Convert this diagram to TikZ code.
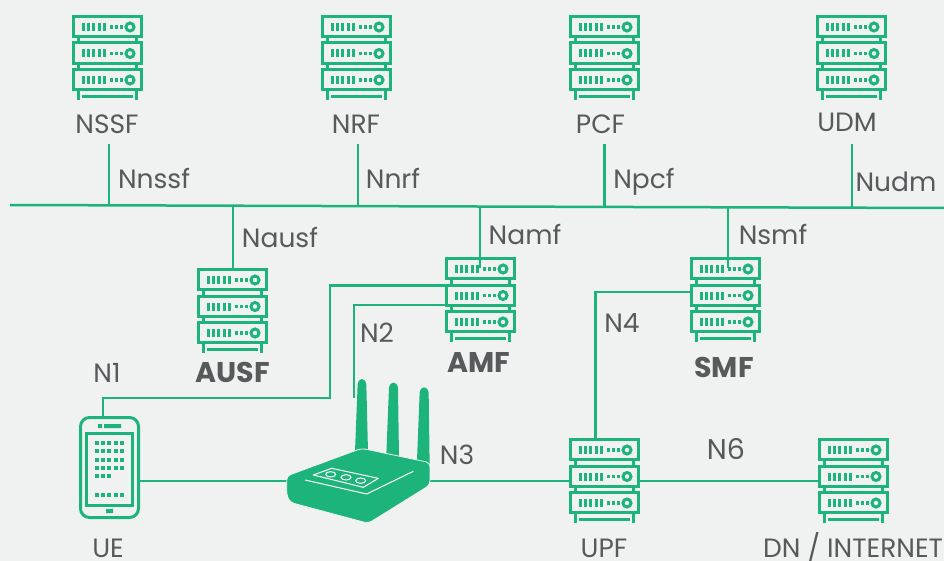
\documentclass[tikz,border=0pt]{standalone}
\usepackage{fontspec}
\setmainfont{Poppins}
\definecolor{grn}{HTML}{1DB47C}
\definecolor{bgc}{HTML}{F0F2F1}
\definecolor{txt}{HTML}{58595B}
\tikzset{
  wire/.style={draw=grn,line width=2.5pt},
  iconline/.style={draw=grn,line width=3pt},
  lbl/.style={text=txt,font=\fontsize{26.5}{30}\selectfont,inner sep=0pt,anchor=base},
  biglbl/.style={text=txt,font=\fontsize{28.5}{32}\selectfont,inner sep=0pt,anchor=base},
  boldlbl/.style={text=txt,font=\fontsize{28.5}{32}\selectfont\bfseries,inner sep=0pt,anchor=base},
  holder/.style={rectangle,inner sep=0pt,draw=none},
}
\newcommand{\srvicon}[3]{%
  \begin{scope}[shift={(#2,#3)}]
    \node[holder,minimum width=71pt,minimum height=85pt] (#1) at (35.5,42.5) {};
    \foreach \r in {0,26.5,53}{
      \draw[iconline] (1.5,\r+1.5) rectangle (69.5,\r+21.8);
      \foreach \t in {10,15,20,26,31}{\fill[grn] (\t,\r+8) rectangle ++(3.4,8);}
      \foreach \t in {38,43,48}{\fill[grn] (\t,\r+10.2) rectangle ++(3.4,3.4);}
      \draw[iconline] (58,\r+12) circle (4);
    }
    \draw[iconline] (6.5,23)--(6.5,27) (64.5,23)--(64.5,27) (6.5,49.5)--(6.5,53.5) (64.5,49.5)--(64.5,53.5);
    \draw[iconline] (6.5,75)--(6.5,85) (64.5,75)--(64.5,85);
    \draw[iconline] (10,81.5)--(61,81.5);
  \end{scope}}
\begin{document}
\begin{tikzpicture}[x=1pt,y=-1pt]
\fill[bgc] (0,0) rectangle (944,561);
\useasboundingbox (0,0) rectangle (944,561);
% servers
\srvicon{nssf}{72}{15}
\srvicon{nrf}{321}{15}
\srvicon{pcf}{569}{15}
\srvicon{udm}{816}{15}
\srvicon{ausf}{197}{268}
\srvicon{amf}{445}{257}
\srvicon{smf}{690}{257}
\srvicon{upf}{569}{438}
\srvicon{dn}{818}{438}
% labels
\node[lbl] (lnssf) at (107,134) {NSSF};
\node[lbl] (lnrf) at (356,134) {NRF};
\node[lbl] (lpcf) at (600.5,134) {PCF};
\node[lbl] (ludm) at (847,131.5) {UDM};
\node[lbl] (tnssf) at (154,188.7) {Nnssf};
\node[lbl] (tnrf) at (393,188.7) {Nnrf};
\node[lbl] (tpcf) at (644,188.7) {Npcf};
\node[lbl] (tudm) at (896,191.7) {Nudm};
\node[lbl] (tausf) at (280,247.7) {Nausf};
\node[lbl] (tamf) at (525,244.7) {Namf};
\node[lbl] (tsmf) at (773,244.7) {Nsmf};
\node[lbl] (n1) at (107,382) {N1};
\node[lbl] (n2) at (377,342) {N2};
\node[lbl] (n3) at (457,464) {N3};
\node[lbl] (n4) at (622,332) {N4};
\node[biglbl] (n6) at (726,459) {N6};
\node[boldlbl] (lausf) at (233,382) {AUSF};
\node[boldlbl] (lamf) at (479,372) {AMF};
\node[boldlbl] (lsmf) at (724,377) {SMF};
\node[lbl] (lue) at (108,557.5) {UE};
\node[lbl] (lupf) at (604,557.5) {UPF};
\node[lbl] (ldn) at (853,557.5) {DN / INTERNET};
% bus
\coordinate (busL) at (10,205);
\coordinate (busR) at (944,208);
\draw[wire] (busL) -- (busR);
\coordinate (j1) at (109,205.3);
\coordinate (j2) at (358,206);
\coordinate (j3) at (604.5,206.5);
\coordinate (j4) at (852,207.5);
\coordinate (j5) at (233,206);
\coordinate (j6) at (480,206.5);
\coordinate (j7) at (728,207);
\coordinate (s1) at (109,144);
\coordinate (s2) at (358,144);
\coordinate (s3) at (604.5,144);
\coordinate (s4) at (852,144);
\draw[wire] (s1)--(j1);
\draw[wire] (s2)--(j2);
\draw[wire] (s3)--(j3);
\draw[wire] (s4)--(j4);
\draw[wire] (j5)--(j5 |- ausf.north);
\draw[wire] (j6)--([yshift=-11pt]j6 |- amf.north);
\draw[wire] (j7)--([yshift=-11pt]j7 |- smf.north);
% phone
\node[holder,minimum width=61pt,minimum height=103pt] (ue) at (109.5,467.5) {};
\draw[iconline,rounded corners=9pt] (80.5,417.5) rectangle (138.5,517.5);
\draw[iconline] (86,433) rectangle (132,505);
\fill[grn] (98,424) rectangle (102,428) (104,424) rectangle (121,428) (106,509) rectangle (113,513);
\foreach \y in {443,451,460,468}{\foreach \x in {97,103,109,116,122}{\fill[grn] (\x-2,\y-2) rectangle ++(4,4);}}
\foreach \x in {97,103,109}{\fill[grn] (\x-2,474) rectangle ++(4,4);}
\foreach \x in {97,103,109,116,122}{\fill[grn] (\x-2,493) rectangle ++(4,4);}
% router holder + wires beneath it
\node[holder,minimum width=143pt,minimum height=75pt] (router) at (358.5,485.5) {};
\coordinate (rl) at ([yshift=4.5pt]router.west);
\coordinate (rr) at ([yshift=4.5pt]router.east);
\draw[wire] (rl -| ue.east) -- (rl);
\draw[wire] (rr) -- (rr -| upf.west);
\draw[wire] (rr -| upf.east) -- (rr -| dn.west);
% control lines
\coordinate (c1) at (330,398);
\coordinate (c2) at (103,398);
\coordinate (c3) at (354,398);
\coordinate (c4) at (595.5,292);
\draw[wire] ([yshift=14pt]amf.west) -| (c1) -- (c2) -- (c2 |- ue.north);
\draw[wire] ([yshift=-5.5pt]amf.west) -| (c3);
\draw[wire] ([yshift=7.5pt]smf.west) -- (c4) -- (c4 |- upf.north);
% router art
\begin{scope}[shift={(270,370)},x=0.3333pt,y=-0.3333pt]
  \fill[grn] (255,245) -- (263,42) .. controls (268,22) and (284,22) .. (289,42) -- (294,245) -- cycle;
  \fill[grn] (349,255) -- (357,52) .. controls (362,33) and (379,33) .. (384,52) -- (387,260) -- cycle;
  \fill[grn] (441,272) -- (449,67) .. controls (454,47) and (471,47) .. (476,67) -- (479,285) -- cycle;
  \draw[bgc,line width=0.8pt,fill=grn,rounded corners=4pt] (275,235) -- (480,278) -- (480,345) -- (295,460) -- (60,397) -- (50,375) -- (50,318) -- cycle;
  \draw[white,line width=1pt,line join=round] (105,330) -- (290,372) -- (430,304);
  \draw[white,line width=1pt,line join=round] (185,295) -- (325,325) -- (280,352) -- (130,315) -- cycle;
  \draw[white,line width=1pt] (182,313) ellipse (15 and 8);
  \draw[white,line width=1pt] (228,322) ellipse (15 and 8);
  \draw[white,line width=1pt] (272,332) ellipse (15 and 8);
\end{scope}
\end{tikzpicture}
\end{document}
